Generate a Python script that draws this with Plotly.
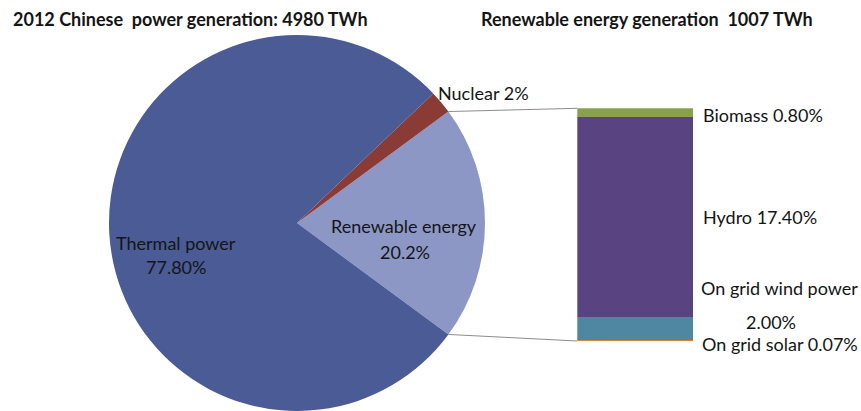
import math
import plotly.graph_objects as go

W, H = 861, 411

# Generation mix, share of the 4980 TWh total (%)
mix_labels = ["Renewable energy", "Nuclear", "Thermal power"]
mix_values = [20.2, 2.0, 77.8]
mix_pct_text = ["20.2%", "2%", "77.80%"]
mix_colors = ["#8C97C5", "#8A3B36", "#4A5B95"]

# Renewable breakdown, share of total generation (%), stacked bottom to top
ren_labels = ["On grid solar", "On grid wind power", "Hydro", "Biomass"]
ren_values = [0.07, 2.00, 17.40, 0.80]
ren_pct_text = ["0.07%", "2.00%", "17.40%", "0.80%"]
ren_colors = ["#D5843A", "#4F86A0", "#594380", "#87A24B"]

titles = ["2012 Chinese  power generation: 4980 TWh",
          "Renewable energy generation  1007 TWh"]

FONT = "Lato"
TXT = "#151515"


def px(x):
    return x / W


def py(y):
    return 1 - y / H


# pie placement (pixels)
pie_cx, pie_cy, pie_r = 297, 223, 188
# stacked column placement (pixels)
bar_l, bar_r, bar_t, bar_b = 577.3, 693.3, 108.3, 341.0

fig = go.Figure()

ren_share = mix_values[0] / sum(mix_values)
half_angle = ren_share * 360 / 2

# renewable slice centred on 3 o'clock, nuclear just above it
fig.add_trace(go.Pie(
    labels=mix_labels,
    values=mix_values,
    sort=False,
    direction="counterclockwise",
    rotation=90 - half_angle,
    marker=dict(colors=mix_colors, line=dict(width=0)),
    textinfo="none",
    hoverinfo="label+percent",
    showlegend=False,
    domain=dict(x=[px(pie_cx - pie_r), px(pie_cx + pie_r)],
                y=[max(0.0, py(pie_cy + pie_r)), py(pie_cy - pie_r)]),
))

total_ren = sum(ren_values)
for lab, val, col in zip(ren_labels, ren_values, ren_colors):
    fig.add_trace(go.Bar(
        x=[0], y=[val], width=1, name=lab,
        marker=dict(color=col, line=dict(width=0)),
        showlegend=False, hoverinfo="name+y",
    ))

# connector lines from the renewable slice edge to the column
th = math.radians(half_angle)
ex = pie_cx + pie_r * math.cos(th)
ey_up = pie_cy - pie_r * math.sin(th)
ey_dn = pie_cy + pie_r * math.sin(th)
shapes = [
    dict(type="line", xref="paper", yref="paper",
         x0=px(ex), y0=py(ey_up), x1=px(bar_l), y1=py(bar_t),
         line=dict(color="#8c8c8c", width=1)),
    dict(type="line", xref="paper", yref="paper",
         x0=px(ex), y0=py(ey_dn), x1=px(bar_l), y1=py(bar_b),
         line=dict(color="#8c8c8c", width=1)),
]


def ann(text, x, y, size=18, xanchor="center", bold=False):
    return dict(text=f"<b>{text}</b>" if bold else text,
                x=px(x), y=py(y), xref="paper", yref="paper",
                xanchor=xanchor, yanchor="middle", showarrow=False,
                font=dict(family=FONT, size=size, color=TXT))


annotations = [
    ann(titles[0], 11, 19, size=18, xanchor="left", bold=True),
    ann(titles[1], 479, 19, size=18, xanchor="left", bold=True),
    ann(mix_labels[2], 176, 243),
    ann(mix_pct_text[2], 176, 267),
    ann(mix_labels[0], 404, 226),
    ann(mix_pct_text[0], 405, 252),
    ann(f"{mix_labels[1]} {mix_pct_text[1]}", 436, 93, xanchor="left"),
    ann(f"{ren_labels[3]} {ren_pct_text[3]}", 701, 115, xanchor="left"),
    ann(f"{ren_labels[2]} {ren_pct_text[2]}", 701, 217, xanchor="left"),
    ann(ren_labels[1], 779, 288),
    ann(ren_pct_text[1], 771, 322),
    ann(f"{ren_labels[0]} {ren_pct_text[0]}", 700, 344, xanchor="left"),
]

fig.update_layout(
    width=W, height=H,
    margin=dict(l=0, r=0, t=0, b=0),
    paper_bgcolor="white", plot_bgcolor="rgba(0,0,0,0)",
    barmode="stack", bargap=0,
    xaxis=dict(domain=[px(bar_l), px(bar_r)], range=[-0.5, 0.5], visible=False,
               fixedrange=True),
    yaxis=dict(domain=[py(bar_b), py(bar_t)], range=[0, total_ren], visible=False,
               fixedrange=True),
    shapes=shapes,
    annotations=annotations,
    font=dict(family=FONT),
)

fig.write_html("out.html")
